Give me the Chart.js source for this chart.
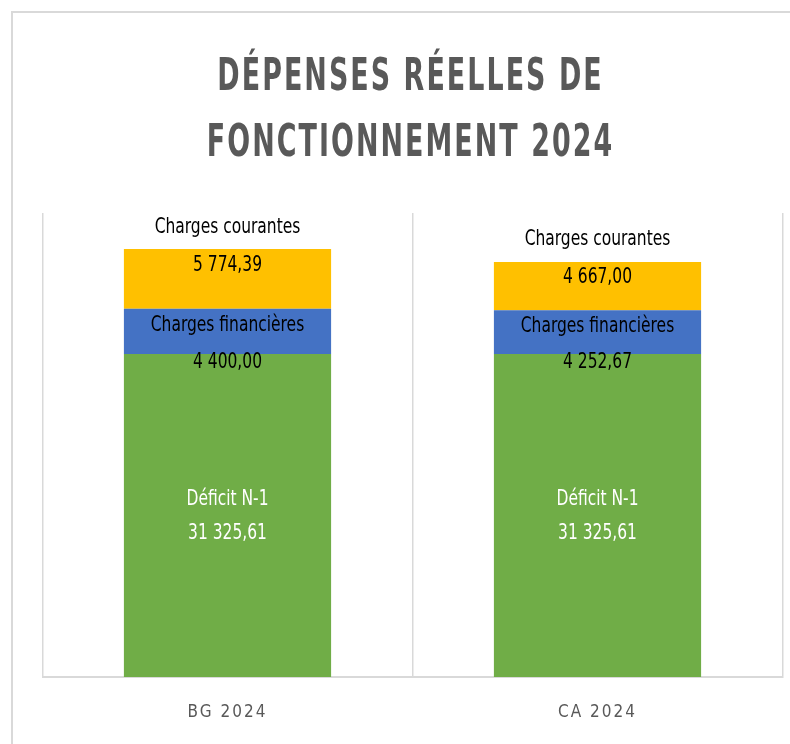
<!DOCTYPE html>
<html><head><meta charset="utf-8">
<script src="https://cdn.jsdelivr.net/npm/chart.js@4.4.1/dist/chart.umd.min.js"></script>
<style>html,body{margin:0;padding:0;background:#fff;}#wrap{position:relative;width:790px;height:744px;}</style>
</head><body><div id="wrap"><canvas id="c" width="790" height="744"></canvas></div>
<script>
const categories = ['BG 2024', 'CA 2024'];
const seriesNames = ['Déficit N-1', 'Charges financières', 'Charges courantes'];
const deficit = [31325.61, 31325.61];
const financieres = [4400.00, 4252.67];
const courantes = [5774.39, 4667.00];
const titleLines = ['DÉPENSES RÉELLES DE', 'FONCTIONNEMENT 2024'];

const FONT = '"Liberation Sans Narrow", "DejaVu Sans Condensed", "Liberation Sans", sans-serif';

function fmt(v){
  const parts = v.toFixed(2).split('.');
  const int = parts[0].replace(/\B(?=(\d{3})+(?!\d))/g, ' ');
  return int + ',' + parts[1];
}

function drawText(ctx, text, x, y, font, color, sx, spacing){
  ctx.save();
  ctx.font = font;
  ctx.fillStyle = color;
  ctx.textAlign = 'center';
  ctx.textBaseline = 'middle';
  ctx.letterSpacing = (spacing||0) + 'px';
  ctx.translate(x, y);
  ctx.scale(sx, 1);
  ctx.fillText(text, (spacing||0)/2, 0);
  ctx.restore();
}

const decorPlugin = {
  id: 'decor',
  beforeDraw(chart){
    const ctx = chart.ctx;
    ctx.save();
    ctx.strokeStyle = '#d9d9d9';
    ctx.lineWidth = 2;
    ctx.beginPath();
    ctx.moveTo(12, 744); ctx.lineTo(12, 12); ctx.lineTo(790, 12);
    ctx.stroke();
    ctx.restore();
    const ca = chart.chartArea;
    const cx = (ca.left + ca.right) / 2 - 3;
    drawText(ctx, titleLines[0], cx, 79, 'bold 44px ' + FONT, '#595959', 0.68, 3);
    drawText(ctx, titleLines[1], cx, 145, 'bold 44px ' + FONT, '#595959', 0.68, 3);
    ctx.letterSpacing = '2px';
  },
  beforeDatasetsDraw(chart){
    chart.ctx.letterSpacing = '0px';
  },
  afterDatasetsDraw(chart){
    const ctx = chart.ctx;
    const f = '21px ' + FONT;
    chart.data.datasets.forEach((ds, i) => {
      const meta = chart.getDatasetMeta(i);
      meta.data.forEach((el, j) => {
        const top = Math.min(el.y, el.base), bot = Math.max(el.y, el.base);
        const x = el.x;
        const name = ds.label, val = fmt(ds.data[j]);
        if (ds.labelMode === 'top') {
          drawText(ctx, name, x, top - 22, f, '#000', 0.82, 0);
          drawText(ctx, val, x, top + 16, f, '#000', 0.82, 0);
        } else if (ds.labelMode === 'mid') {
          drawText(ctx, name, x, (top + bot) / 2 - 6, f, '#000', 0.82, 0);
          drawText(ctx, val, x, bot + 9, f, '#000', 0.82, 0);
        } else {
          const c = (top + bot) / 2;
          drawText(ctx, name, x, c - 16, f, '#fff', 0.82, 0);
          drawText(ctx, val, x, c + 18, f, '#fff', 0.82, 0);
        }
      });
    });
  }
};

new Chart(document.getElementById('c'), {
  type: 'bar',
  data: {
    labels: categories,
    datasets: [
      { label: seriesNames[0], data: deficit, backgroundColor: '#70AD47', labelMode: 'center' },
      { label: seriesNames[1], data: financieres, backgroundColor: '#4472C4', labelMode: 'mid' },
      { label: seriesNames[2], data: courantes, backgroundColor: '#FFC000', labelMode: 'top' }
    ]
  },
  options: {
    responsive: false,
    animation: false,
    devicePixelRatio: 1,
    barPercentage: 0.56,
    categoryPercentage: 1,
    layout: { padding: { top: 213, left: 42.5, right: 7.5, bottom: 21 } },
    plugins: { legend: { display: false }, title: { display: false }, tooltip: { enabled: false } },
    scales: {
      x: {
        stacked: true,
        grid: { display: true, offset: true, color: '#d9d9d9', lineWidth: 1.5, drawTicks: false },
        border: { display: true, color: '#d9d9d9', width: 2 },
        ticks: { color: '#595959', padding: 25, font: { family: FONT, size: 17 } },
        afterFit(scale){ scale.height = 46; }
      },
      y: { stacked: true, display: false, min: 0, max: 45000 }
    }
  },
  plugins: [decorPlugin]
});
</script>
</body></html>
